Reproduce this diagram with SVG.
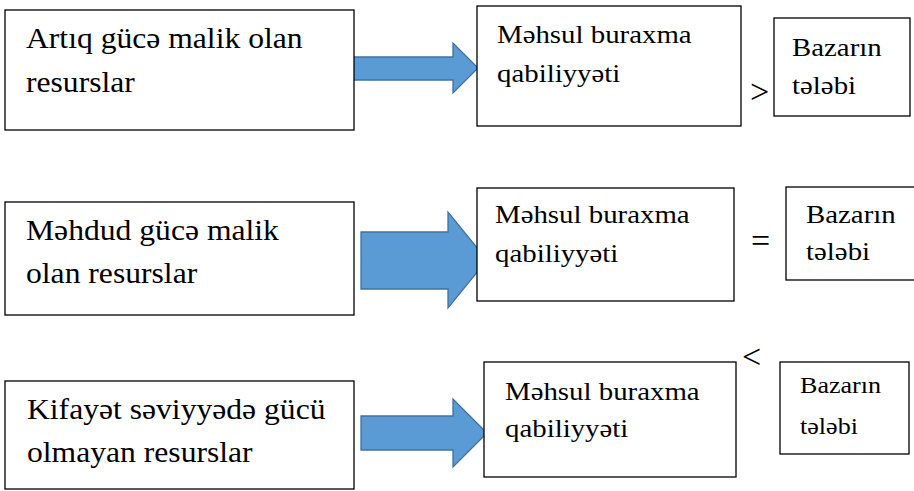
<svg xmlns="http://www.w3.org/2000/svg" width="914" height="491" viewBox="0 0 914 491">
  <style>
    .box { fill: #ffffff; stroke: #000000; stroke-width: 1.3; }
    .arrow { fill: #5B9BD5; stroke: #41719C; stroke-width: 1.3; stroke-linejoin: miter; }
    .big, .mid, .small, .sym { font-family: Liberation Serif, DejaVu Serif, serif; fill: #000000; }
    .big { font-size: 28.5px; }
    .mid { font-size: 26px; }
    .small { font-size: 23.5px; }
    .sym { font-size: 34px; }
  </style>

  <rect x="0" y="0" width="914" height="491" fill="#ffffff"/>

  <!-- block arrows between resource boxes and capacity boxes -->
  <g id="connectors">
    <path class="arrow" d="M353,57 H453 V43 L478,68 L453,93 V80 H353 Z"/>
    <path class="arrow" d="M361,232 H448 V212 L487,260 L448,308 V289 H361 Z"/>
    <path class="arrow" d="M361,416 H453 V399 L487,433 L453,467 V450 H361 Z"/>
  </g>

  <!-- row 1 -->
  <g id="res-1">
    <rect class="box" x="5" y="10" width="349" height="120"/>
    <text class="big" transform="translate(26,48) scale(1.11 1)">Artıq gücə malik olan</text>
    <text class="big" transform="translate(26,92) scale(1.11 1)">resurslar</text>
  </g>
  <g id="cap-1">
    <rect class="box" x="477" y="6" width="264" height="120"/>
    <text class="mid" transform="translate(497,43) scale(1.11 1)">Məhsul buraxma</text>
    <text class="mid" transform="translate(497,82) scale(1.11 1)">qabiliyyəti</text>
  </g>
  <g id="rel-1">
    <text class="sym" x="750" y="103">&gt;</text>
  </g>
  <g id="dem-1">
    <rect class="box" x="774" y="18" width="136" height="98"/>
    <text class="mid" transform="translate(792,56) scale(1.11 1)">Bazarın</text>
    <text class="mid" transform="translate(792,94) scale(1.11 1)">tələbi</text>
  </g>

  <!-- row 2 -->
  <g id="res-2">
    <rect class="box" x="5" y="202" width="349" height="113"/>
    <text class="big" transform="translate(26,240) scale(1.11 1)">Məhdud gücə malik</text>
    <text class="big" transform="translate(26,283) scale(1.11 1)">olan resurslar</text>
  </g>
  <g id="cap-2">
    <rect class="box" x="477" y="188" width="257" height="113"/>
    <text class="mid" transform="translate(495,223) scale(1.11 1)">Məhsul buraxma</text>
    <text class="mid" transform="translate(495,262) scale(1.11 1)">qabiliyyəti</text>
  </g>
  <g id="rel-2">
    <text class="sym" x="751" y="252">=</text>
  </g>
  <g id="dem-2">
    <rect class="box" x="786" y="187" width="140" height="93"/>
    <text class="mid" transform="translate(806,223) scale(1.11 1)">Bazarın</text>
    <text class="mid" transform="translate(806,260) scale(1.11 1)">tələbi</text>
  </g>

  <!-- row 3 -->
  <g id="res-3">
    <rect class="box" x="5" y="381" width="349" height="108"/>
    <text class="big" transform="translate(27,419) scale(1.11 1)">Kifayət səviyyədə gücü</text>
    <text class="big" transform="translate(27,462) scale(1.11 1)">olmayan resurslar</text>
  </g>
  <g id="cap-3">
    <rect class="box" x="484" y="362" width="252" height="115"/>
    <text class="mid" transform="translate(505,400) scale(1.11 1)">Məhsul buraxma</text>
    <text class="mid" transform="translate(505,437) scale(1.11 1)">qabiliyyəti</text>
  </g>
  <g id="rel-3">
    <text class="sym" x="742" y="368">&lt;</text>
  </g>
  <g id="dem-3">
    <rect class="box" x="780" y="362" width="129" height="92"/>
    <text class="small" transform="translate(800,393) scale(1.11 1)">Bazarın</text>
    <text class="small" transform="translate(800,434) scale(1.11 1)">tələbi</text>
  </g>
</svg>
